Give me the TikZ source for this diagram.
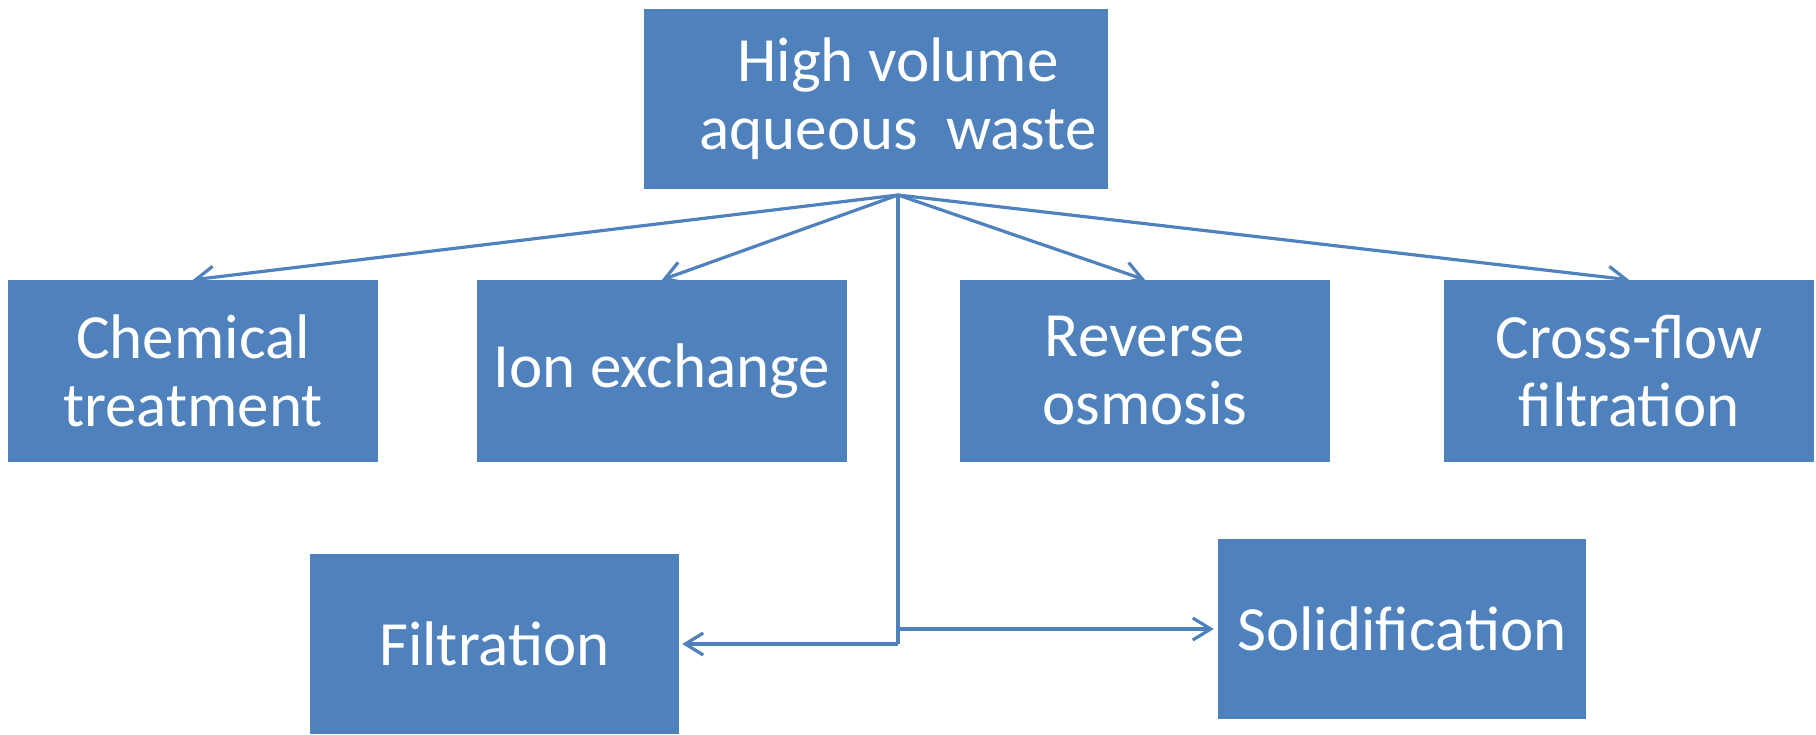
\documentclass[tikz,border=0pt]{standalone}
\usepackage{fontspec}
\setmainfont{Carlito}
\usetikzlibrary{arrows.meta}
\definecolor{boxblue}{RGB}{79,129,189}
\tikzset{
  blockbox/.style={fill=boxblue, draw=none, text=white, inner sep=0pt, align=center,
    font=\fontsize{63}{68}\selectfont},
  link/.style={draw=boxblue, line width=3.2pt, -{Straight Barb[length=18pt,width=22pt,line width=3.2pt]}},
  plainlink/.style={draw=boxblue, line width=3.2pt}
}
\begin{document}
\begin{tikzpicture}[x=1pt,y=-1pt]
\useasboundingbox (0,0) rectangle (1816,734);
\node[blockbox, minimum width=464pt, minimum height=180pt] (top) at (876,99) {};
\node[text=white, align=center, inner sep=0pt, font=\fontsize{63}{68}\selectfont] (toptext) at (898,99) {High volume\\aqueous\ \ waste};
\node[blockbox, minimum width=370pt, minimum height=182pt] (chem) at (193,371) {Chemical\\treatment};
\node[blockbox, minimum width=370pt, minimum height=182pt] (ion) at (662,371) {Ion exchange};
\node[blockbox, minimum width=370pt, minimum height=182pt] (ro) at (1145,371) {Reverse\\osmosis};
\node[blockbox, minimum width=370pt, minimum height=182pt] (cf) at (1629,371) {Cross-flow\\filtration};
\node[blockbox, minimum width=369pt, minimum height=180pt] (filt) at (494.5,644) {Filtration};
\node[blockbox, minimum width=368pt, minimum height=180pt] (sol) at (1402,629) {Solidification};
\coordinate (apex) at (898,195);
\coordinate (bend) at (898,644);
\coordinate (split) at (898,629);
\draw[link] (apex) -- (chem.north);
\draw[link] (apex) -- (ion.north);
\draw[link] (apex) -- (ro.north);
\draw[link] (apex) -- (cf.north);
\draw[plainlink] (apex) -- (bend);
\draw[link] (bend) -- ([xshift=3pt]filt.east);
\draw[link] (split) -- ([xshift=-4pt]sol.west);
\end{tikzpicture}
\end{document}
